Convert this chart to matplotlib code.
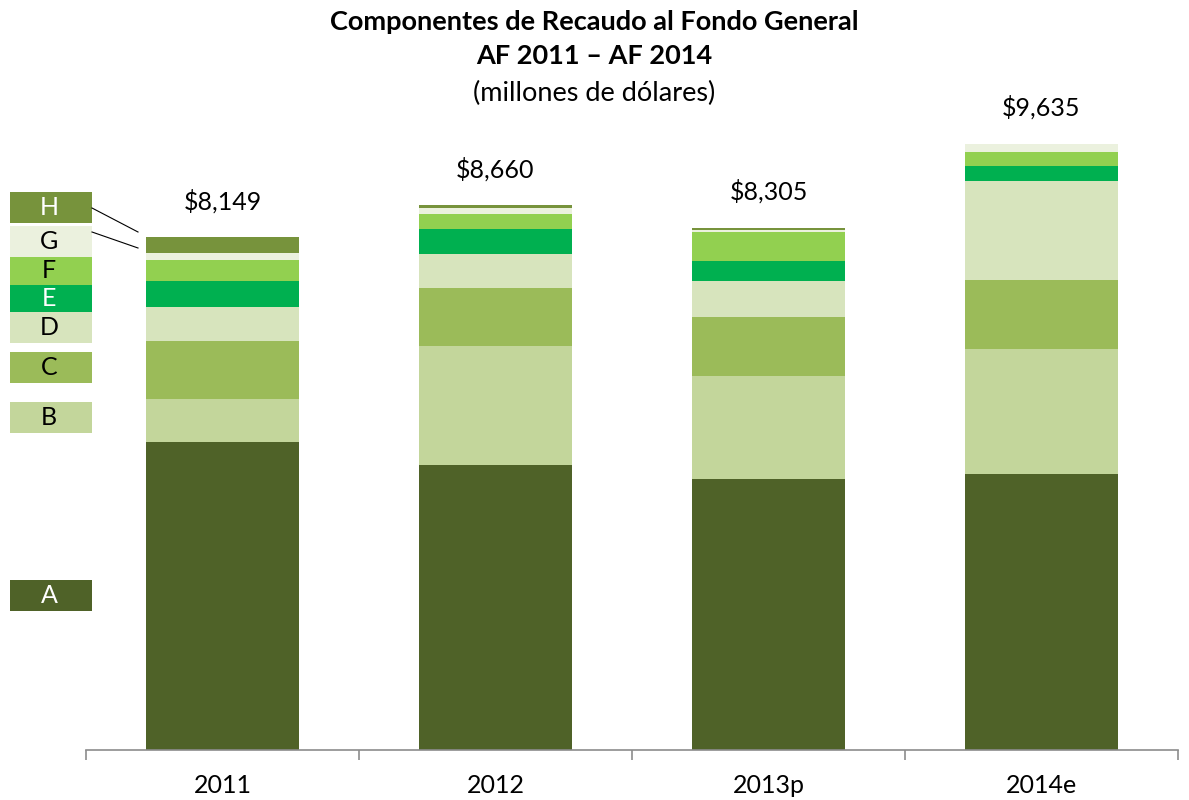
import matplotlib
matplotlib.use("Agg")
import matplotlib.pyplot as plt
from matplotlib.patches import Rectangle
from matplotlib.lines import Line2D
import numpy as np

plt.rcParams['font.family'] = ['Lato', 'DejaVu Sans']

categories = ["2011", "2012", "2013p", "2014e"]
segments = ["A", "B", "C", "D", "E", "F", "G", "H"]
A = [4896, 4528, 4306, 4392]
B = [688, 1896, 1647, 1980]
C = [917, 922, 937, 1102]
D = [540, 547, 561, 1576]
E = [418, 386, 318, 233]
F = [329, 238, 461, 219]
G = [116, 95, 43, 133]
H = [245, 48, 32, 0]
totals = [8149, 8660, 8305, 9635]
total_labels = ["$8,149", "$8,660", "$8,305", "$9,635"]

series = [A, B, C, D, E, F, G, H]
colors = ["#4f6228", "#c3d69b", "#9bbb59", "#d7e4bd", "#00b050", "#92d050", "#ebf1de", "#77933c"]
text_colors = ["white", "black", "black", "black", "white", "black", "black", "white"]

W, Hh = 1189, 800
fig = plt.figure(figsize=(W / 100, Hh / 100), dpi=100)
ax = fig.add_axes([86 / W, 1 - 750 / Hh, (1178 - 86) / W, 629 / Hh])

x = np.arange(len(categories))
bottom = np.zeros(len(categories))
for vals, col in zip(series, colors):
    ax.bar(x, vals, width=0.56, bottom=bottom, color=col, edgecolor='none', zorder=2)
    bottom += np.array(vals)

for xi, tot, lab in zip(x, totals, total_labels):
    ax.annotate(lab, (xi, tot), xytext=(0, 26), textcoords='offset points',
                ha='center', va='center', fontsize=18)

ax.set_xlim(-0.5, len(categories) - 0.5)
ax.set_ylim(0, 10000)
ax.set_yticks([])
for s in ['top', 'right', 'left']:
    ax.spines[s].set_visible(False)
ax.spines['bottom'].set_color('#8c8c8c')
ax.spines['bottom'].set_linewidth(1.2)
ax.set_xticks(np.arange(len(categories) + 1) - 0.5)
ax.set_xticklabels([])
ax.tick_params(axis='x', which='major', length=7, color='#8c8c8c', width=1.2, direction='out')
ax.set_xticks(x, minor=True)
ax.set_xticklabels(categories, minor=True, fontsize=18)
ax.tick_params(axis='x', which='minor', length=0, pad=17)

# Title
fig.text(0.5, 1 - 22 / Hh, "Componentes de Recaudo al Fondo General", ha='center', va='center',
         fontsize=19.5, fontweight='bold')
fig.text(0.5, 1 - 56 / Hh, "AF 2011 \u2013 AF 2014", ha='center', va='center',
         fontsize=19.5, fontweight='bold')
fig.text(0.5, 1 - 93 / Hh, "(millones de d\u00f3lares)", ha='center', va='center', fontsize=19.5)

# Left-side segment labels
boxes = {"H": (192, 223), "G": (226, 257), "F": (257, 285), "E": (285, 312),
         "D": (312, 343), "C": (352, 383), "B": (402, 433), "A": (580, 611)}
for name, col, tc in zip(segments, colors, text_colors):
    y0, y1 = boxes[name]
    fig.patches.append(Rectangle((10 / W, 1 - y1 / Hh), 82 / W, (y1 - y0) / Hh,
                                 transform=fig.transFigure, facecolor=col, edgecolor='none'))
    fig.text(49 / W, 1 - (y0 + y1) / 2 / Hh, name, ha='center', va='center', fontsize=18, color=tc)

# leader lines
fig.lines.append(Line2D([92 / W, 138 / W], [1 - 208 / Hh, 1 - 232 / Hh], transform=fig.transFigure,
                        color='black', linewidth=0.8))
fig.lines.append(Line2D([92 / W, 138 / W], [1 - 232 / Hh, 1 - 248 / Hh], transform=fig.transFigure,
                        color='black', linewidth=0.8))

fig.savefig("out.png", dpi=100)
